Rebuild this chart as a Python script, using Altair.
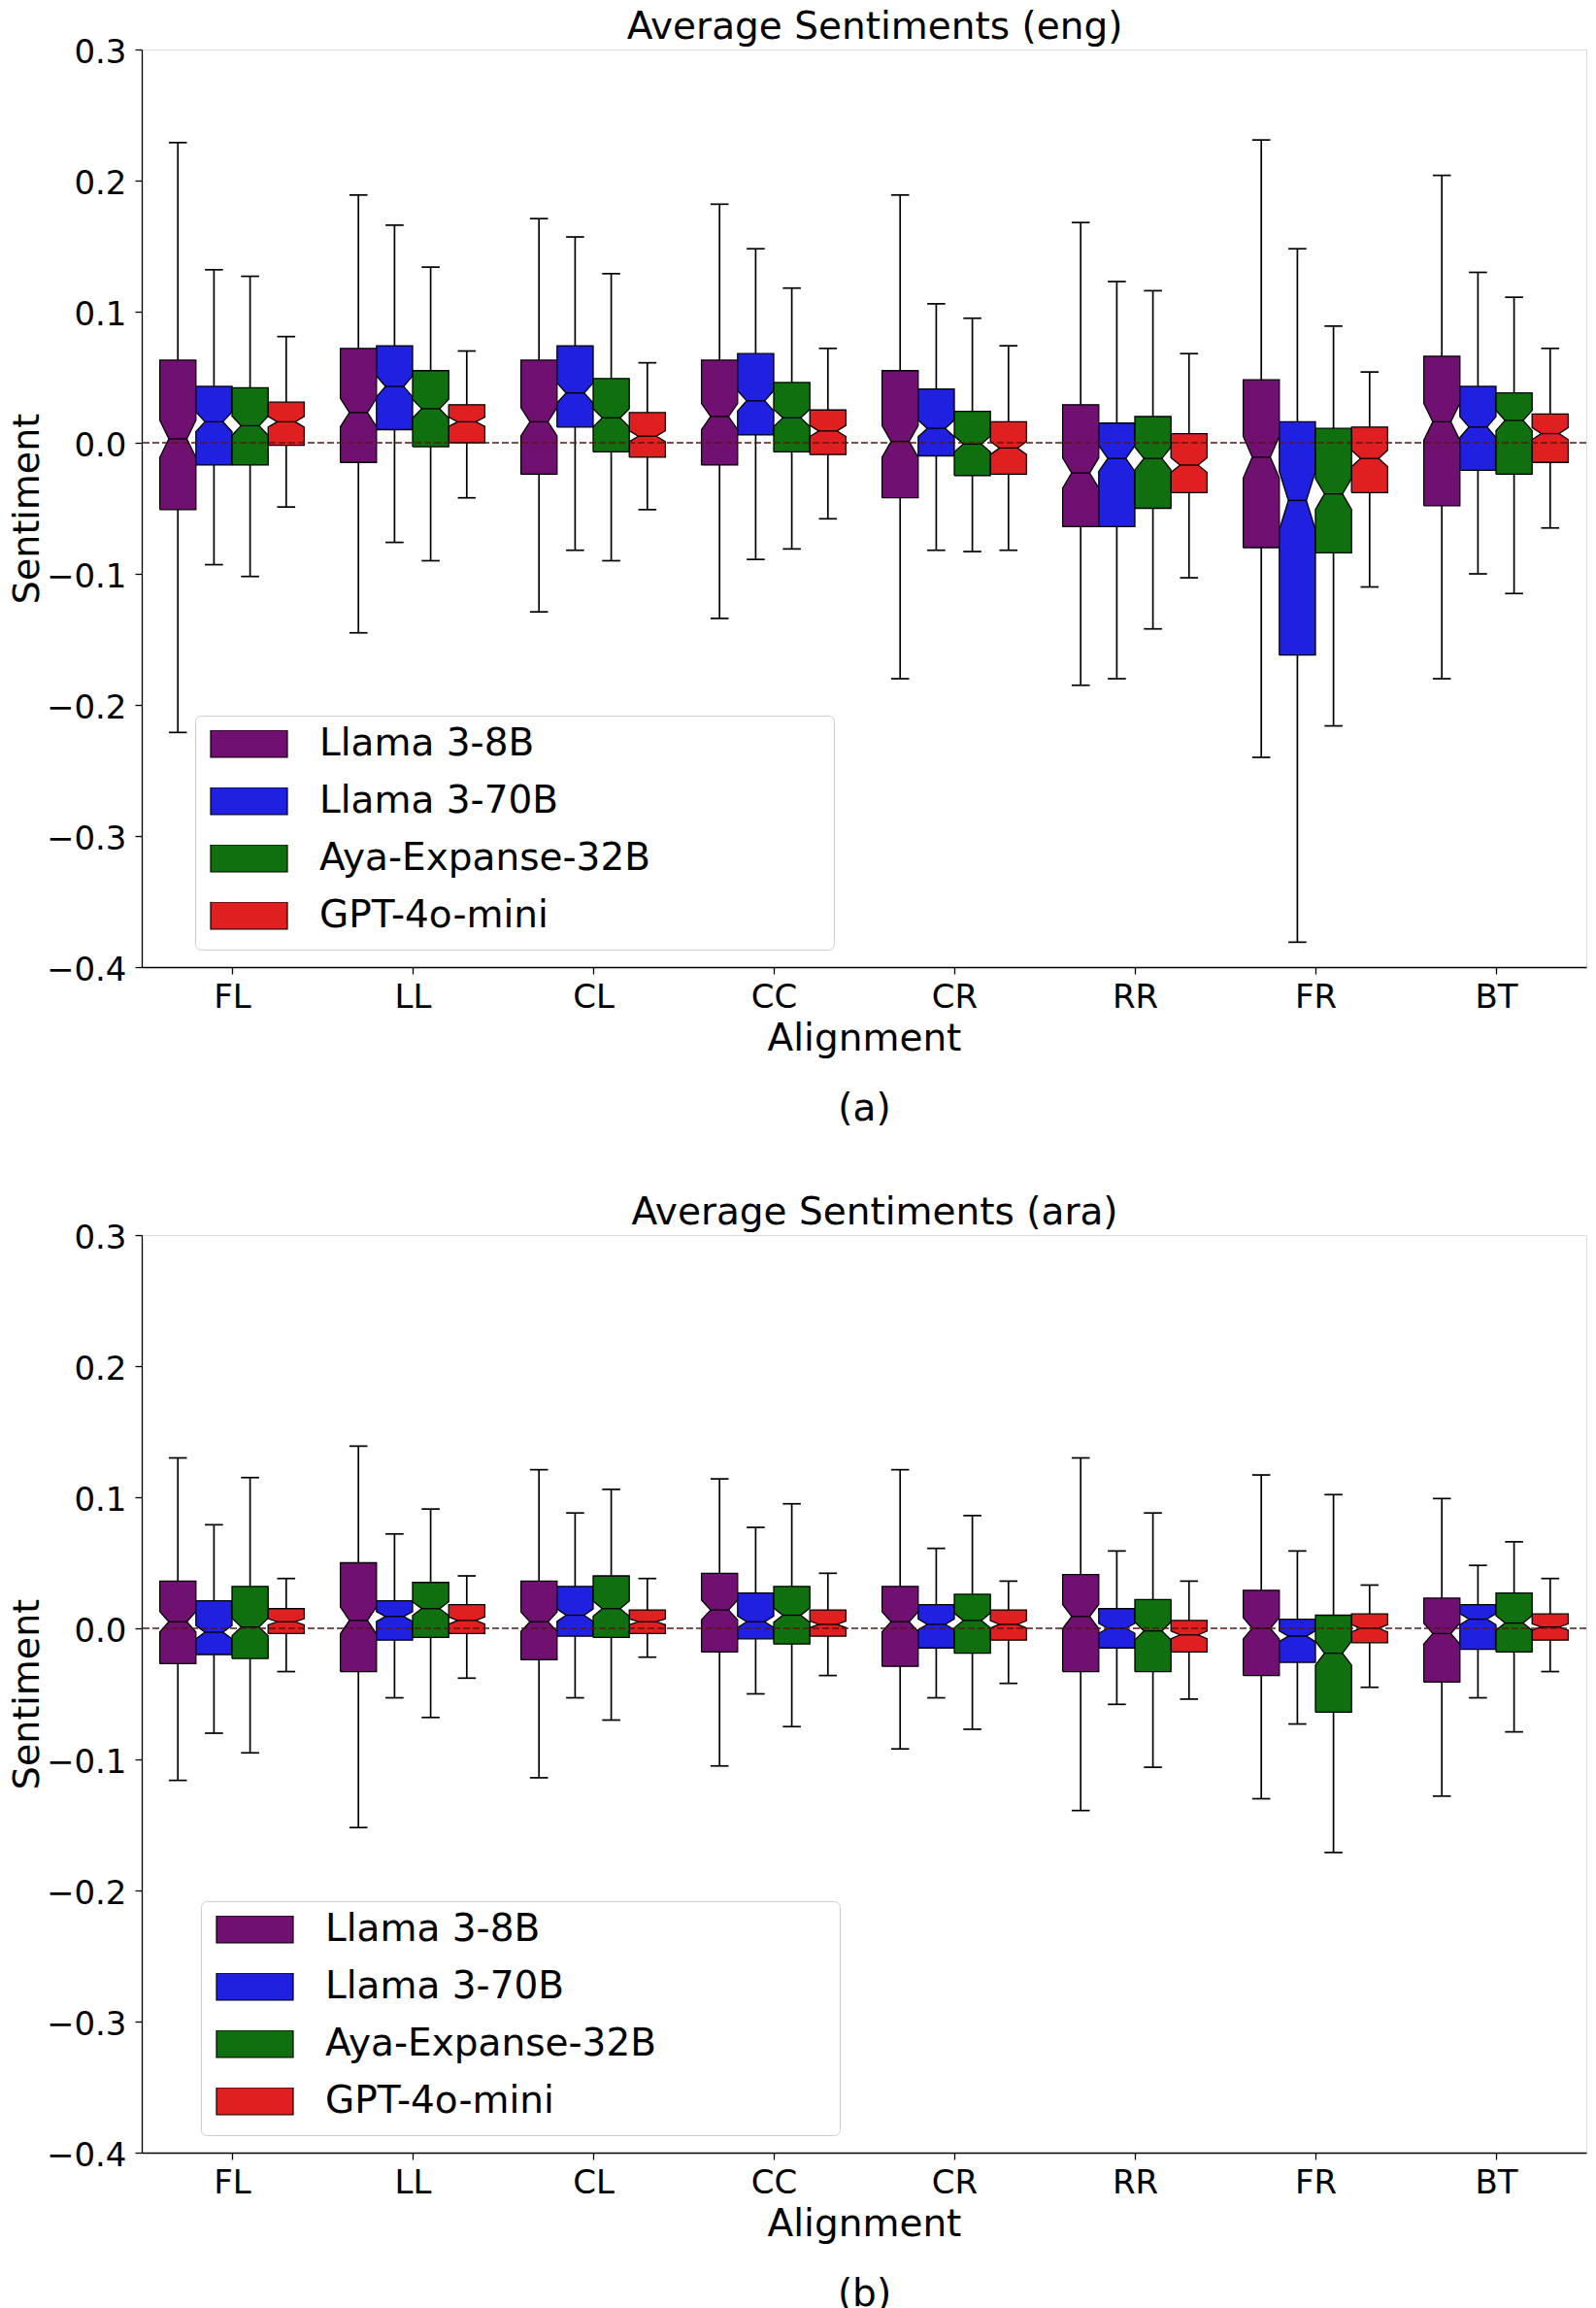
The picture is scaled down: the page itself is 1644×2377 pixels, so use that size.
import json
import math
import altair as alt
import pandas as pd

ALIGNMENTS = ["FL", "LL", "CL", "CC", "CR", "RR", "FR", "BT"]
MODELS = ["Llama 3-8B", "Llama 3-70B", "Aya-Expanse-32B", "GPT-4o-mini"]
COLORS = ["#701070", "#2020E0", "#107010", "#E02020"]
Y_TICKS = [-0.4, -0.3, -0.2, -0.1, 0.0, 0.1, 0.2, 0.3]

# (a) English: one row per model (MODELS order), one column per alignment
ENG_LOW = [
    [-0.221, -0.145, -0.129, -0.134, -0.180, -0.185, -0.240, -0.180],
    [-0.093, -0.076, -0.082, -0.089, -0.082, -0.180, -0.381, -0.100],
    [-0.102, -0.090, -0.090, -0.081, -0.083, -0.142, -0.216, -0.115],
    [-0.049, -0.042, -0.051, -0.058, -0.082, -0.103, -0.110, -0.065],
]
ENG_Q1 = [
    [-0.051, -0.015, -0.024, -0.017, -0.042, -0.064, -0.080, -0.048],
    [-0.017, 0.010, 0.012, 0.006, -0.010, -0.064, -0.162, -0.021],
    [-0.017, -0.003, -0.007, -0.007, -0.025, -0.050, -0.084, -0.024],
    [-0.002, 0.000, -0.011, -0.009, -0.024, -0.038, -0.038, -0.015],
]
ENG_MED = [
    [0.003, 0.023, 0.016, 0.020, 0.001, -0.023, -0.011, 0.016],
    [0.016, 0.043, 0.038, 0.032, 0.011, -0.012, -0.044, 0.012],
    [0.013, 0.026, 0.019, 0.019, -0.001, -0.012, -0.039, 0.017],
    [0.016, 0.016, 0.005, 0.009, -0.004, -0.017, -0.012, 0.007],
]
ENG_Q3 = [
    [0.063, 0.072, 0.063, 0.063, 0.055, 0.029, 0.048, 0.066],
    [0.043, 0.074, 0.074, 0.068, 0.041, 0.015, 0.016, 0.043],
    [0.042, 0.055, 0.049, 0.046, 0.024, 0.020, 0.011, 0.038],
    [0.031, 0.029, 0.023, 0.025, 0.016, 0.007, 0.012, 0.022],
]
ENG_HIGH = [
    [0.229, 0.189, 0.171, 0.182, 0.189, 0.168, 0.231, 0.204],
    [0.132, 0.166, 0.157, 0.148, 0.106, 0.123, 0.148, 0.130],
    [0.127, 0.134, 0.129, 0.118, 0.095, 0.116, 0.089, 0.111],
    [0.081, 0.070, 0.061, 0.072, 0.074, 0.068, 0.054, 0.072],
]

# (b) Arabic
ARA_LOW = [
    [-0.116, -0.152, -0.114, -0.105, -0.092, -0.139, -0.130, -0.128],
    [-0.080, -0.053, -0.053, -0.050, -0.053, -0.058, -0.073, -0.053],
    [-0.095, -0.068, -0.070, -0.075, -0.077, -0.106, -0.171, -0.079],
    [-0.033, -0.038, -0.022, -0.036, -0.042, -0.054, -0.045, -0.033],
]
ARA_Q1 = [
    [-0.027, -0.033, -0.024, -0.018, -0.029, -0.033, -0.036, -0.041],
    [-0.020, -0.009, -0.006, -0.008, -0.015, -0.015, -0.026, -0.016],
    [-0.023, -0.007, -0.007, -0.012, -0.019, -0.033, -0.064, -0.018],
    [-0.004, -0.004, -0.004, -0.006, -0.009, -0.018, -0.011, -0.009],
]
ARA_MED = [
    [0.005, 0.006, 0.005, 0.014, 0.005, 0.009, 0.000, -0.004],
    [-0.003, 0.009, 0.010, 0.005, 0.003, 0.000, -0.006, 0.007],
    [0.001, 0.015, 0.015, 0.010, 0.006, -0.002, -0.019, 0.004],
    [0.005, 0.006, 0.005, 0.003, 0.003, -0.005, 0.000, 0.001],
]
ARA_Q3 = [
    [0.036, 0.050, 0.036, 0.042, 0.032, 0.041, 0.029, 0.023],
    [0.021, 0.021, 0.032, 0.027, 0.018, 0.015, 0.007, 0.018],
    [0.032, 0.035, 0.040, 0.032, 0.026, 0.022, 0.010, 0.027],
    [0.015, 0.018, 0.014, 0.014, 0.014, 0.006, 0.011, 0.011],
]
ARA_HIGH = [
    [0.130, 0.139, 0.121, 0.114, 0.121, 0.130, 0.117, 0.099],
    [0.079, 0.072, 0.088, 0.077, 0.061, 0.059, 0.059, 0.048],
    [0.115, 0.091, 0.106, 0.095, 0.086, 0.088, 0.102, 0.066],
    [0.038, 0.040, 0.038, 0.042, 0.036, 0.036, 0.033, 0.038],
]

N_SAMPLES = 160  # approx. sample count per box (sets notch depth, as matplotlib does)

# layout / style (kept out of the data arrays)
OFFSETS = [-0.3, -0.1, 0.1, 0.3]
BOX_W = 0.2
FONT = "DejaVu Sans"
W, H = 1488, 945
# widen legend frame like matplotlib's (non-breaking spaces, closed by a zero-width space)
LEGEND_PAD = "\u00a0" * 14 + "\u200b"


def build_tables(low, q1, med, q3, high):
    poly, whisk, caps, meds = [], [], [], []
    for m, model in enumerate(MODELS):
        for g, al in enumerate(ALIGNMENTS):
            c = g + OFFSETS[m]
            L, R = c - BOX_W / 2, c + BOX_W / 2
            nL, nR = c - BOX_W / 4, c + BOX_W / 4
            a, b, md, d, e = low[m][g], q1[m][g], med[m][g], q3[m][g], high[m][g]
            notch = 1.57 * (d - b) / math.sqrt(N_SAMPLES)
            lo_n, hi_n = max(md - notch, b), min(md + notch, d)
            box = f"{model}|{al}"
            outline = [(L, b), (R, b), (R, lo_n), (nR, md), (R, hi_n), (R, d),
                       (L, d), (L, hi_n), (nL, md), (L, lo_n), (L, b)]
            for k, (px, py) in enumerate(outline):
                poly.append(dict(box=box, model=model, k=k, px=px, py=py))
            whisk.append(dict(x=c, y=d, y2=e))
            whisk.append(dict(x=c, y=a, y2=b))
            caps.append(dict(xl=nL, xr=nR, y=e))
            caps.append(dict(xl=nL, xr=nR, y=a))
            meds.append(dict(xl=nL, xr=nR, y=md))
    return (pd.DataFrame(poly), pd.DataFrame(whisk), pd.DataFrame(caps), pd.DataFrame(meds))


x_scale = alt.Scale(domain=[-0.5, 7.5], nice=False, zero=False)
y_scale = alt.Scale(domain=[-0.4, 0.3], nice=False, zero=False)
label_expr = json.dumps(ALIGNMENTS) + "[round(datum.value)]"


def panel(title, caption, tables, legend_x, legend_y):
    poly, whisk, caps, meds = tables
    x_axis = alt.Axis(
        values=list(range(len(ALIGNMENTS))), labelExpr=label_expr, grid=False,
        tickSize=7, tickWidth=1.3, tickColor="black", domainColor="black", domainWidth=1.3,
        labelFontSize=34, labelPadding=7, labelColor="black", labelFont=FONT,
        title=["Alignment", caption], titleFontSize=39, titleFontWeight="normal",
        titleFont=FONT, titleColor="black", titleY=54, titleBaseline="top", titleLineHeight=72,
    )
    y_axis = alt.Axis(
        values=Y_TICKS, format=".1f", grid=False,
        tickSize=7, tickWidth=1.3, tickColor="black", domainColor="black", domainWidth=1.3,
        labelFontSize=34, labelPadding=9, labelColor="black", labelFont=FONT,
        labelBaseline="alphabetic", labelOffset=13,
        title="Sentiment", titleFontSize=38, titleFontWeight="normal", titleFont=FONT,
        titleColor="black", titlePadding=0,
    )
    legend = alt.Legend(
        orient="none", legendX=legend_x, legendY=legend_y, title=None,
        symbolType="M-1,-0.354L1,-0.354L1,0.354L-1,0.354Z", symbolSize=6241,
        symbolStrokeColor="black", symbolStrokeWidth=1.2, symbolOpacity=1,
        clipHeight=28, rowPadding=20, labelOffset=32,
        labelFontSize=39, labelFont=FONT, labelColor="black",
        labelExpr="datum.label + '" + LEGEND_PAD + "'", labelLimit=1000,
        padding=15, strokeColor="#cccccc", fillColor="white", cornerRadius=6,
    )
    X = lambda f: alt.X(f, scale=x_scale, axis=x_axis)
    Y = lambda f: alt.Y(f, scale=y_scale, axis=y_axis)
    boxes = alt.Chart(poly).mark_line(
        filled=True, stroke="black", strokeWidth=1.3, opacity=1, interpolate="linear"
    ).encode(
        x=X("px:Q"),
        y=Y("py:Q"),
        color=alt.Color("model:N", scale=alt.Scale(domain=MODELS, range=COLORS), legend=legend),
        detail="box:N",
        order="k:Q",
    )
    med_rules = alt.Chart(meds).mark_rule(color="black", strokeWidth=1.3).encode(
        x=X("xl:Q"), x2="xr:Q", y=Y("y:Q"),
    )
    whiskers = alt.Chart(whisk).mark_rule(color="black", strokeWidth=1.7).encode(
        x=X("x:Q"), y=Y("y:Q"), y2="y2:Q",
    )
    cap_rules = alt.Chart(caps).mark_rule(color="black", strokeWidth=1.7).encode(
        x=X("xl:Q"), x2="xr:Q", y=Y("y:Q"),
    )
    zero = alt.Chart(pd.DataFrame({"v": [0.0]})).mark_rule(
        color="#5a1414", strokeDash=[7, 3], strokeWidth=1.4
    ).encode(y=Y("v:Q"))
    return alt.layer(boxes, med_rules, whiskers, cap_rules, zero).properties(
        width=W, height=H,
        title=alt.TitleParams(title, fontSize=39, fontWeight="normal", font=FONT,
                              color="black", offset=-11, anchor="middle", frame="group",
                              dx=11),
    )


top = panel("Average Sentiments (eng)", "(a)",
            build_tables(ENG_LOW, ENG_Q1, ENG_MED, ENG_Q3, ENG_HIGH), 55, 686)
bottom = panel("Average Sentiments (ara)", "(b)",
               build_tables(ARA_LOW, ARA_Q1, ARA_MED, ARA_Q3, ARA_HIGH), 61, 686)

chart = alt.vconcat(top, bottom, spacing=67).resolve_legend(color="independent").properties(
    padding=0
).configure_view(stroke="black", strokeWidth=1.3).configure(font=FONT)

chart.save("out.html", embed_options={"renderer": "svg", "actions": False})
